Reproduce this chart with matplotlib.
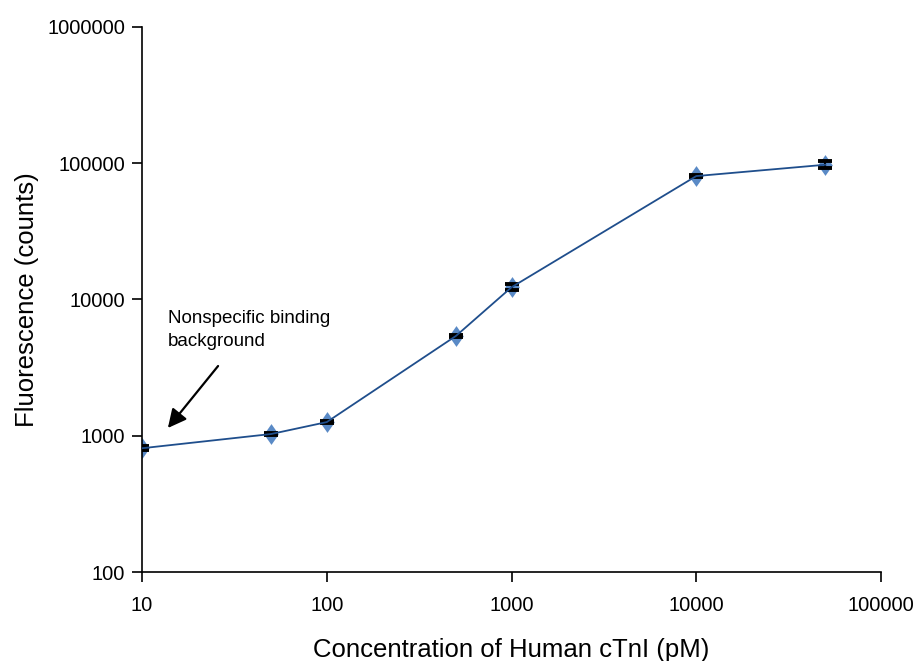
import matplotlib
matplotlib.use("Agg")
import matplotlib.pyplot as plt
import numpy as np

plt.rcParams['font.family'] = ['Liberation Sans', 'DejaVu Sans']

conc = [10, 50, 100, 500, 1000, 10000, 50000]
fluor = [810, 1030, 1260, 5400, 12300, 80500, 97500]
err = [30, 15, 25, 120, 650, 1500, 6000]

fig = plt.figure(figsize=(9.14, 6.61), dpi=100)
ax = fig.add_axes([0.1554, 0.1346, 0.8085, 0.8246])

diamond = [(0, 1), (0.7, 0), (0, -1), (-0.7, 0), (0, 1)]
ax.plot(conc, fluor, linestyle='none', marker=diamond, markersize=15,
        color='#5a8ac6', markeredgewidth=0, zorder=1)
ax.errorbar(conc, fluor, yerr=err, fmt='none', ecolor='black', elinewidth=1.5,
            capsize=5, capthick=2.8, zorder=3)
ax.plot(conc, fluor, color='#1f4e8c', lw=1.3, zorder=4)

ax.set_xscale('log')
ax.set_yscale('log')
ax.set_xlim(10, 100000)
ax.set_ylim(100, 1000000)
ax.minorticks_off()
xt = [10, 100, 1000, 10000, 100000]
yt = [100, 1000, 10000, 100000, 1000000]
ax.set_xticks(xt)
ax.set_xticklabels([str(v) for v in xt])
ax.set_yticks(yt)
ax.set_yticklabels([str(v) for v in yt])
ax.tick_params(axis='y', which='major', direction='out', length=7, width=1.2,
               labelsize=14.5, pad=5, color='black')
ax.tick_params(axis='x', which='major', direction='out', length=7.5, width=1.2,
               labelsize=14.5, pad=10, color='black')
for s in ['top', 'right']:
    ax.spines[s].set_visible(False)
for s in ['left', 'bottom']:
    ax.spines[s].set_linewidth(1.2)

ax.set_xlabel('Concentration of Human cTnI (pM)', fontsize=18.5, labelpad=16)
ax.set_ylabel('Fluorescence (counts)', fontsize=18.5, labelpad=6)

ax.annotate('', xy=(13.8, 1140), xytext=(25.8, 3250),
            arrowprops=dict(arrowstyle='-|>', color='black', lw=1.6,
                            mutation_scale=28, shrinkA=0, shrinkB=0))
ax.text(13.8, 8400, 'Nonspecific binding\nbackground', fontsize=13.5,
        ha='left', va='top', linespacing=1.5)

fig.savefig('out.png', dpi=100)
